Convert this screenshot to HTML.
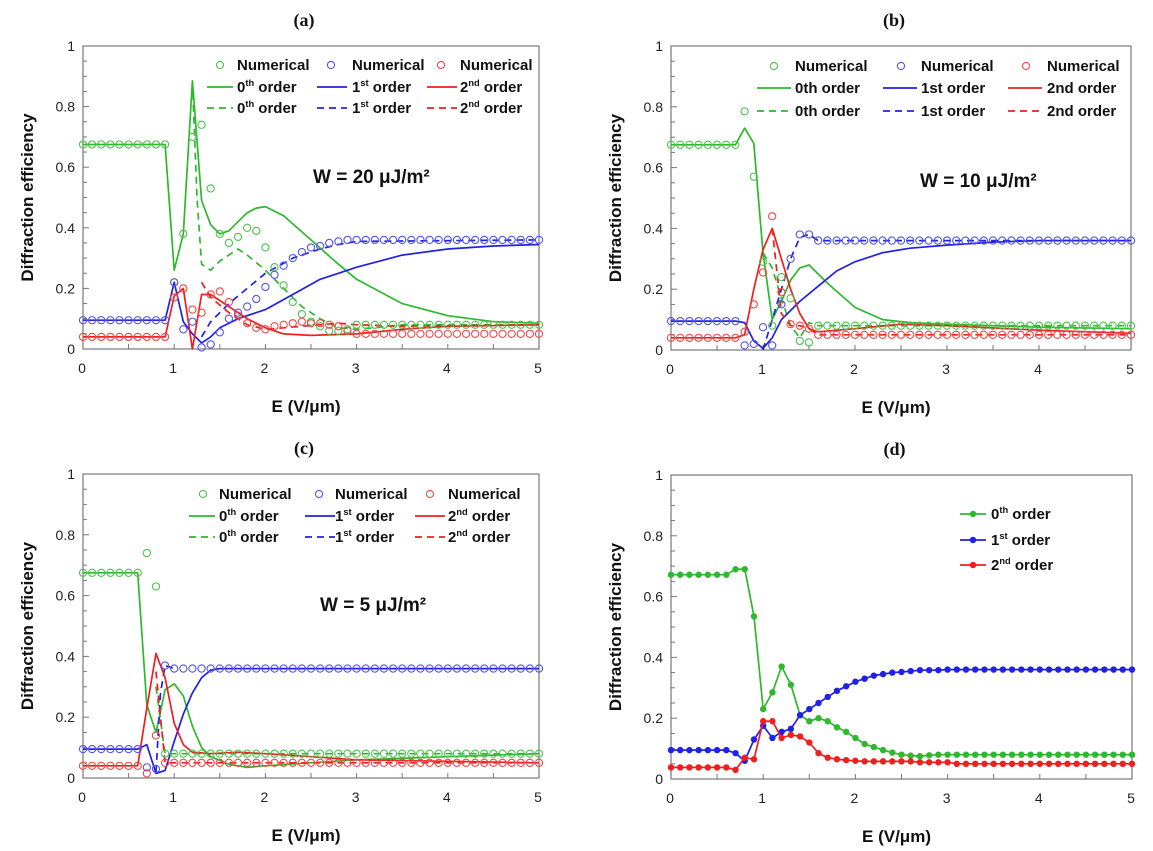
<!DOCTYPE html>
<html><head><meta charset="utf-8"><style>
body{margin:0;background:#fff;}
svg{display:block;font-family:"Liberation Sans",sans-serif;}
</style></head><body>
<svg id="fig" width="1153" height="851" viewBox="0 0 1153 851" xmlns="http://www.w3.org/2000/svg"></svg>
<script>
// ---- shared x-grid for numerical / panel d data (E in V/um)
const gridX = [0,0.1,0.2,0.3,0.4,0.5,0.6,0.7,0.8,0.9,1,1.1,1.2,1.3,1.4,1.5,1.6,1.7,1.8,1.9,2,2.1,2.2,2.3,2.4,2.5,2.6,2.7,2.8,2.9,3,3.1,3.2,3.3,3.4,3.5,3.6,3.7,3.8,3.9,4,4.1,4.2,4.3,4.4,4.5,4.6,4.7,4.8,4.9,5];
const xTicks = [0,1,2,3,4,5];
const yTicks = [0,0.2,0.4,0.6,0.8,1];
const yTickLabels = ["0","0.2","0.4","0.6","0.8","1"];

// ---- panel (a)
const aG_x=[0,0.9,1.0,1.1,1.2,1.3,1.4,1.5,1.6,1.7,1.8,1.9,2.0,2.2,2.5,2.8,3.0,3.5,4,4.5,5];
const aG_y=[0.675,0.675,0.26,0.38,0.885,0.49,0.41,0.38,0.39,0.42,0.45,0.465,0.47,0.44,0.36,0.28,0.23,0.15,0.11,0.09,0.085];
const aGd_x=[1.2,1.25,1.3,1.4,1.5,1.7,1.8,2.0,2.2,2.4,2.6,2.8,3.0,3.2,3.5,5];
const aGd_y=[0.885,0.5,0.28,0.26,0.29,0.33,0.31,0.26,0.2,0.14,0.1,0.07,0.065,0.07,0.08,0.08];
const aB_x=[0,0.9,1.0,1.1,1.2,1.3,1.4,1.5,1.7,2.0,2.3,2.6,2.8,3.0,3.5,4,4.5,5];
const aB_y=[0.095,0.095,0.22,0.09,0.05,0.02,0.04,0.07,0.1,0.13,0.18,0.23,0.25,0.27,0.31,0.33,0.34,0.345];
const aBd_x=[1.3,1.4,1.6,1.8,2.0,2.3,2.6,2.8,3.0,5];
const aBd_y=[0.04,0.09,0.15,0.2,0.25,0.3,0.33,0.345,0.355,0.36];
const aR_x=[0,0.9,1.0,1.1,1.2,1.3,1.4,1.6,1.8,2.0,2.2,2.5,3.0,3.5,4,5];
const aR_y=[0.04,0.04,0.175,0.2,0.0,0.18,0.18,0.14,0.1,0.07,0.05,0.045,0.05,0.065,0.075,0.08];
const aRd_x=[1.3,1.4,1.6,1.8,2.0,2.4,2.8,3.0,3.5,5];
const aRd_y=[0.22,0.17,0.12,0.08,0.065,0.075,0.085,0.08,0.075,0.08];
const aGn=[0.675,0.675,0.675,0.675,0.675,0.675,0.675,0.675,0.675,0.675,0.22,0.38,0.70,0.74,0.53,0.38,0.35,0.37,0.40,0.39,0.335,0.27,0.21,0.155,0.115,0.09,0.075,0.06,0.06,0.065,0.08,0.08,0.08,0.08,0.08,0.08,0.08,0.08,0.08,0.08,0.08,0.08,0.08,0.08,0.08,0.08,0.08,0.08,0.08,0.08,0.08];
const aBn=[0.095,0.095,0.095,0.095,0.095,0.095,0.095,0.095,0.095,0.095,0.22,0.065,0.09,0.005,0.015,0.055,0.1,0.12,0.14,0.165,0.205,0.245,0.275,0.3,0.32,0.335,0.34,0.35,0.355,0.36,0.36,0.36,0.36,0.36,0.36,0.36,0.36,0.36,0.36,0.36,0.36,0.36,0.36,0.36,0.36,0.36,0.36,0.36,0.36,0.36,0.36];
const aRn=[0.04,0.04,0.04,0.04,0.04,0.04,0.04,0.04,0.04,0.04,0.17,0.2,0.13,0.12,0.18,0.19,0.155,0.11,0.085,0.07,0.065,0.075,0.08,0.085,0.09,0.085,0.085,0.08,0.075,0.06,0.05,0.05,0.05,0.05,0.05,0.05,0.05,0.05,0.05,0.05,0.05,0.05,0.05,0.05,0.05,0.05,0.05,0.05,0.05,0.05,0.05];

// ---- panel (b)
const bG_x=[0,0.7,0.8,0.9,1.0,1.1,1.2,1.3,1.4,1.5,1.7,2.0,2.3,2.6,3,4,5];
const bG_y=[0.675,0.675,0.73,0.68,0.32,0.1,0.16,0.23,0.27,0.28,0.22,0.14,0.1,0.09,0.085,0.075,0.07];
const bGd_x=[1.0,1.1,1.2,1.3,1.4,1.5,1.6,5];
const bGd_y=[0.32,0.27,0.17,0.08,0.04,0.09,0.08,0.08];
const bB_x=[0,0.7,0.8,0.9,1.0,1.1,1.2,1.4,1.6,1.8,2.0,2.3,2.6,3,3.5,4,5];
const bB_y=[0.095,0.095,0.09,0.03,0.005,0.04,0.1,0.16,0.21,0.26,0.29,0.32,0.335,0.345,0.355,0.36,0.36];
const bBd_x=[1.0,1.1,1.2,1.3,1.4,1.5,1.6,5];
const bBd_y=[0.0,0.1,0.2,0.3,0.37,0.38,0.36,0.36];
const bR_x=[0,0.7,0.8,0.9,1.0,1.1,1.2,1.3,1.4,1.5,1.6,2.0,2.5,3,4,5];
const bR_y=[0.04,0.04,0.05,0.2,0.33,0.4,0.3,0.2,0.12,0.07,0.06,0.07,0.085,0.08,0.065,0.055];
const bRd_x=[1.1,1.2,1.3,1.4,1.5,1.6,5];
const bRd_y=[0.4,0.12,0.08,0.08,0.07,0.05,0.05];
const bGn=[0.675,0.675,0.675,0.675,0.675,0.675,0.675,0.675,0.785,0.57,0.29,0.08,0.24,0.17,0.03,0.025,0.08,0.08,0.08,0.08,0.08,0.08,0.08,0.08,0.08,0.08,0.08,0.08,0.08,0.08,0.08,0.08,0.08,0.08,0.08,0.08,0.08,0.08,0.08,0.08,0.08,0.08,0.08,0.08,0.08,0.08,0.08,0.08,0.08,0.08,0.08];
const bBn=[0.095,0.095,0.095,0.095,0.095,0.095,0.095,0.095,0.015,0.02,0.075,0.015,0.15,0.3,0.38,0.38,0.36,0.36,0.36,0.36,0.36,0.36,0.36,0.36,0.36,0.36,0.36,0.36,0.36,0.36,0.36,0.36,0.36,0.36,0.36,0.36,0.36,0.36,0.36,0.36,0.36,0.36,0.36,0.36,0.36,0.36,0.36,0.36,0.36,0.36,0.36];
const bRn=[0.04,0.04,0.04,0.04,0.04,0.04,0.04,0.04,0.06,0.15,0.255,0.44,0.19,0.085,0.08,0.07,0.05,0.05,0.05,0.05,0.05,0.05,0.05,0.05,0.05,0.05,0.05,0.05,0.05,0.05,0.05,0.05,0.05,0.05,0.05,0.05,0.05,0.05,0.05,0.05,0.05,0.05,0.05,0.05,0.05,0.05,0.05,0.05,0.05,0.05,0.05];

// ---- panel (c)
const cG_x=[0,0.6,0.7,0.8,0.9,1.0,1.1,1.2,1.3,1.4,1.6,1.8,2.0,2.5,3,4,5];
const cG_y=[0.675,0.675,0.24,0.15,0.29,0.31,0.27,0.17,0.1,0.07,0.045,0.035,0.04,0.05,0.06,0.07,0.08];
const cGd_x=[0.8,0.9,5];
const cGd_y=[0.3,0.08,0.08];
const cB_x=[0,0.6,0.7,0.8,0.9,1.0,1.1,1.2,1.3,1.4,1.5,5];
const cB_y=[0.095,0.095,0.11,0.015,0.025,0.12,0.21,0.28,0.33,0.355,0.36,0.36];
const cBd_x=[0.8,0.85,0.9,1.0];
const cBd_y=[0.02,0.28,0.37,0.36];
const cR_x=[0,0.6,0.7,0.8,0.9,1.0,1.1,1.2,1.4,1.7,2.0,2.5,3,4,5];
const cR_y=[0.04,0.04,0.23,0.41,0.33,0.18,0.11,0.085,0.08,0.085,0.08,0.07,0.06,0.055,0.05];
const cRd_x=[0.8,0.85,0.9,5];
const cRd_y=[0.35,0.2,0.05,0.05];
const cGn=[0.675,0.675,0.675,0.675,0.675,0.675,0.675,0.74,0.63,0.08,0.08,0.08,0.08,0.08,0.08,0.08,0.08,0.08,0.08,0.08,0.08,0.08,0.08,0.08,0.08,0.08,0.08,0.08,0.08,0.08,0.08,0.08,0.08,0.08,0.08,0.08,0.08,0.08,0.08,0.08,0.08,0.08,0.08,0.08,0.08,0.08,0.08,0.08,0.08,0.08,0.08];
const cBn=[0.095,0.095,0.095,0.095,0.095,0.095,0.095,0.035,0.03,0.37,0.36,0.36,0.36,0.36,0.36,0.36,0.36,0.36,0.36,0.36,0.36,0.36,0.36,0.36,0.36,0.36,0.36,0.36,0.36,0.36,0.36,0.36,0.36,0.36,0.36,0.36,0.36,0.36,0.36,0.36,0.36,0.36,0.36,0.36,0.36,0.36,0.36,0.36,0.36,0.36,0.36];
const cRn=[0.04,0.04,0.04,0.04,0.04,0.04,0.04,0.015,0.14,0.05,0.05,0.05,0.05,0.05,0.05,0.05,0.05,0.05,0.05,0.05,0.05,0.05,0.05,0.05,0.05,0.05,0.05,0.05,0.05,0.05,0.05,0.05,0.05,0.05,0.05,0.05,0.05,0.05,0.05,0.05,0.05,0.05,0.05,0.05,0.05,0.05,0.05,0.05,0.05,0.05,0.05];

// ---- panel (d)
const dG=[0.672,0.672,0.672,0.672,0.672,0.672,0.672,0.69,0.69,0.535,0.23,0.285,0.37,0.31,0.21,0.19,0.2,0.19,0.17,0.155,0.135,0.115,0.105,0.095,0.087,0.08,0.077,0.075,0.078,0.08,0.08,0.08,0.08,0.08,0.08,0.08,0.08,0.08,0.08,0.08,0.08,0.08,0.08,0.08,0.08,0.08,0.08,0.08,0.08,0.08,0.08];
const dB=[0.095,0.095,0.095,0.095,0.095,0.095,0.095,0.085,0.06,0.13,0.175,0.135,0.155,0.165,0.21,0.23,0.25,0.27,0.29,0.305,0.32,0.33,0.34,0.345,0.35,0.352,0.355,0.358,0.358,0.358,0.36,0.36,0.36,0.36,0.36,0.36,0.36,0.36,0.36,0.36,0.36,0.36,0.36,0.36,0.36,0.36,0.36,0.36,0.36,0.36,0.36];
const dR=[0.038,0.038,0.038,0.038,0.038,0.038,0.038,0.03,0.07,0.065,0.19,0.19,0.135,0.145,0.14,0.12,0.085,0.07,0.065,0.062,0.06,0.058,0.058,0.058,0.058,0.058,0.058,0.055,0.055,0.055,0.055,0.05,0.05,0.05,0.05,0.05,0.05,0.05,0.05,0.05,0.05,0.05,0.05,0.05,0.05,0.05,0.05,0.05,0.05,0.05,0.05];

const NS="http://www.w3.org/2000/svg";
const svg=document.getElementById('fig');
const GREEN="#2db82d", BLUE="#2020e6", RED="#f01e1e";
const GREENL="#4cc44c", BLUEL="#5555e8", REDL="#f04848";
function mk(tag,attrs,parent){const e=document.createElementNS(NS,tag);for(const k in attrs)e.setAttribute(k,attrs[k]);(parent||svg).appendChild(e);return e;}

function panel(id,L,R,T,B,title){
  const g=mk('g',{});
  
  
  const sx=v=>L+(R-L)*v/5, sy=v=>B-(B-T)*v;
  const fr=mk('rect',{x:L,y:T,width:R-L,height:B-T,fill:'none',stroke:'#777','stroke-width':1.2},g);
  
  
  for(let i=0;i<=10;i++){const x=sx(i*0.5);const t=mk('line',{x1:x,x2:x,y1:B,y2:B-5,stroke:'#777','stroke-width':1},g);
    }
  for(let i=0;i<=20;i++){const y=sy(i*0.05);const t=mk('line',{x1:L,x2:L+(i%4==0?6:4),y1:y,y2:y,stroke:'#777','stroke-width':1},g);
    }
  xTicks.forEach(v=>{const t=mk('text',{x:sx(v)-1,y:B+24,'text-anchor':'middle','font-size':14,fill:'#222'},g);t.textContent=v;
    });
  yTicks.forEach((v,i)=>{const t=mk('text',{x:L-8,y:sy(v)+5,'text-anchor':'end','font-size':14,fill:'#222'},g);t.textContent=yTickLabels[i];
    });
  const xt=mk('text',{x:(L+R)/2-5,y:B+63,'text-anchor':'middle','font-size':17,'font-weight':'bold',fill:'#111'},g);xt.textContent='E (V/μm)';
  
  const yx=L-50, yc=(T+B)/2;
  const yt=mk('text',{x:yx,y:yc,'text-anchor':'middle','font-size':17,'font-weight':'bold',fill:'#111',transform:`rotate(-90 ${yx} ${yc})`},g);yt.textContent='Diffraction efficiency';
  
  const tt=mk('text',{x:(L+R)/2-7,y:T-20,'text-anchor':'middle','font-size':18,'font-weight':'bold','font-family':'Liberation Serif, serif',fill:'#111'},g);tt.textContent=title;
  
  return {g,sx,sy};
}
function line(p,xs,ys,color,dash,name){
  const d=xs.map((x,i)=>(i?'L':'M')+p.sx(x).toFixed(1)+' '+p.sy(ys[i]).toFixed(1)).join(' ');
  const e=mk('path',{d,fill:'none',stroke:color,'stroke-width':1.7,'stroke-dasharray':dash?'7 5':'none','stroke-linejoin':'round'},p.g);
  
  
}
function circles(p,ys,color,name){
  ys.forEach((v,i)=>{const c=mk('circle',{cx:p.sx(gridX[i]),cy:p.sy(v),r:3.6,fill:'none',stroke:color,'stroke-width':1.1},p.g);
    
    });
}
function dots(p,ys,color,name){
  line(p,gridX,ys,color,false,name+'-line');
  ys.forEach((v,i)=>{const c=mk('circle',{cx:p.sx(gridX[i]),cy:p.sy(v),r:3.2,fill:color},p.g);
    
    });
}
function txt(p,x,y,s,size,name,sup){
  const t=mk('text',{x,y,'font-size':size,'font-weight':'bold',fill:'#111'},p.g);
  if(sup){t.appendChild(document.createTextNode(s[0]));const ts=mk('tspan',{'font-size':size*0.62,dy:-6},t);ts.textContent=sup;const t2=mk('tspan',{dy:6},t);t2.textContent=s.slice(1);}
  else t.textContent=s;
  
  
  return t;
}
function legend3(p,rows,cols,sup){
  const names=['0','1','2'],sups=['th','st','nd'],cl=[GREEN,BLUE,RED],cll=[GREENL,BLUEL,REDL];
  cols.forEach((c,j)=>{
    const cc=mk('circle',{cx:c.circ,cy:rows[0]-5,r:3.6,fill:'none',stroke:cll[j],'stroke-width':1.1},p.g);
    
    
    txt(p,c.text,rows[0],'Numerical',15,'legend-numerical-label');
    [1,2].forEach(r=>{
      const l=mk('line',{x1:c.l1,x2:c.l2,y1:rows[r]-5,y2:rows[r]-5,stroke:cl[j],'stroke-width':1.8,'stroke-dasharray':r==2?'7 5':'none'},p.g);
      
      
      if(sup) txt(p,c.text,rows[r],names[j]+' order',15,'legend-order-label',sups[j]);
      else txt(p,c.text,rows[r],names[j]+sups[j]+' order',15,'legend-order-label');
    });
  });
}

let p=panel('a',83,539,46,349,'(a)');
line(p,aG_x,aG_y,GREEN,false,'a-0th-solid');line(p,aGd_x,aGd_y,GREEN,true,'a-0th-dashed');
line(p,aB_x,aB_y,BLUE,false,'a-1st-solid');line(p,aBd_x,aBd_y,BLUE,true,'a-1st-dashed');
line(p,aR_x,aR_y,RED,false,'a-2nd-solid');line(p,aRd_x,aRd_y,RED,true,'a-2nd-dashed');
circles(p,aGn,GREENL,'a-0th-numerical');circles(p,aBn,BLUEL,'a-1st-numerical');circles(p,aRn,REDL,'a-2nd-numerical');
legend3(p,[70,92,113],[{circ:220,text:237,l1:207,l2:233},{circ:331,text:352,l1:317,l2:347},{circ:441,text:460,l1:427,l2:457}],true);
txt(p,313,183,'W = 20 μJ/m²',19,'annotation-w');

p=panel('b',671,1131,46,350,'(b)');
line(p,bG_x,bG_y,GREEN,false,'b-0th-solid');line(p,bGd_x,bGd_y,GREEN,true,'b-0th-dashed');
line(p,bB_x,bB_y,BLUE,false,'b-1st-solid');line(p,bBd_x,bBd_y,BLUE,true,'b-1st-dashed');
line(p,bR_x,bR_y,RED,false,'b-2nd-solid');line(p,bRd_x,bRd_y,RED,true,'b-2nd-dashed');
circles(p,bGn,GREENL,'b-0th-numerical');circles(p,bBn,BLUEL,'b-1st-numerical');circles(p,bRn,REDL,'b-2nd-numerical');
legend3(p,[71,93,116],[{circ:774,text:795,l1:757,l2:791},{circ:901,text:921,l1:883,l2:917},{circ:1026,text:1047,l1:1008,l2:1042}],false);
txt(p,920,187,'W = 10 μJ/m²',19,'annotation-w');

p=panel('c',83,539,474,778,'(c)');
line(p,cG_x,cG_y,GREEN,false,'c-0th-solid');line(p,cGd_x,cGd_y,GREEN,true,'c-0th-dashed');
line(p,cB_x,cB_y,BLUE,false,'c-1st-solid');line(p,cBd_x,cBd_y,BLUE,true,'c-1st-dashed');
line(p,cR_x,cR_y,RED,false,'c-2nd-solid');line(p,cRd_x,cRd_y,RED,true,'c-2nd-dashed');
circles(p,cGn,GREENL,'c-0th-numerical');circles(p,cBn,BLUEL,'c-1st-numerical');circles(p,cRn,REDL,'c-2nd-numerical');
legend3(p,[499,521,542],[{circ:203,text:219,l1:189,l2:215},{circ:319,text:335,l1:305,l2:335},{circ:430,text:448,l1:415,l2:445}],true);
txt(p,320,611,'W = 5 μJ/m²',19,'annotation-w');

p=panel('d',671,1132,475,779,'(d)');
dots(p,dG,GREEN,'d-0th');dots(p,dB,BLUE,'d-1st');dots(p,dR,RED,'d-2nd');
[[GREEN,'0','th',514],[BLUE,'1','st',540],[RED,'2','nd',565]].forEach(a=>{
  const l=mk('line',{x1:960,x2:986,y1:a[3],y2:a[3],stroke:a[0],'stroke-width':1.8},p.g);
  
  
  const c=mk('circle',{cx:973,cy:a[3],r:3.2,fill:a[0]},p.g);
  
  
  txt(p,991,a[3]+5,a[1]+' order',15,'legend-order-label',a[2]);
});
</script>
</body></html>
